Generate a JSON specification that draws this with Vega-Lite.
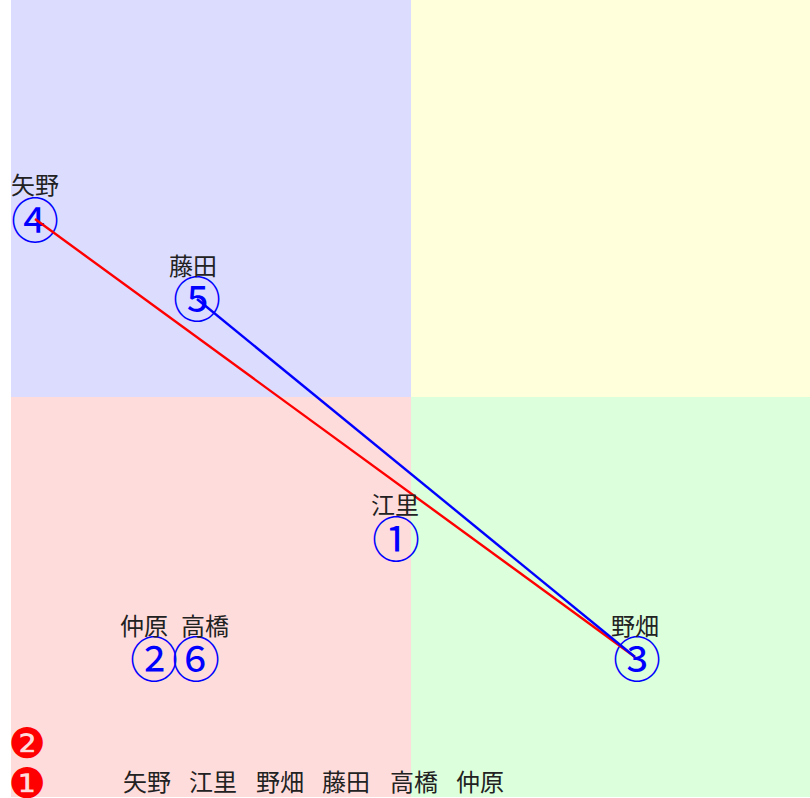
{
  "$schema": "https://vega.github.io/schema/vega-lite/v6.json",
  "width": 810,
  "height": 798,
  "autosize": {"type": "none"},
  "padding": 0,
  "background": "white",
  "config": {"view": {"stroke": null}},
  "datasets": {
    "quadrants": [
      {"q": "Q2", "x1": -10, "x2": 0, "y1": 0, "y2": 10},
      {"q": "Q1", "x1": 0, "x2": 10, "y1": 0, "y2": 10},
      {"q": "Q3", "x1": -10, "x2": 0, "y1": -10, "y2": 0},
      {"q": "Q4", "x1": 0, "x2": 10, "y1": -10, "y2": 0}
    ],
    "lines": [
      {"series": "A", "ord": 1, "x": -9.4, "y": 4.45},
      {"series": "A", "ord": 2, "x": 5.6, "y": -6.5},
      {"series": "B", "ord": 1, "x": -5.35, "y": 2.45},
      {"series": "B", "ord": 2, "x": 5.6, "y": -6.5}
    ],
    "points": [
      {"num": "①", "x": -0.375, "y": -3.575},
      {"num": "②", "x": -6.425, "y": -6.575},
      {"num": "③", "x": 5.65, "y": -6.575},
      {"num": "④", "x": -9.4, "y": 4.4},
      {"num": "⑤", "x": -5.35, "y": 2.425},
      {"num": "⑥", "x": -5.375, "y": -6.575}
    ],
    "labels": [
      {"name": "江里", "x": -0.4, "y": -2.75},
      {"name": "仲原", "x": -6.675, "y": -5.775},
      {"name": "野畑", "x": 5.6, "y": -5.775},
      {"name": "矢野", "x": -9.4, "y": 5.25},
      {"name": "藤田", "x": -5.45, "y": 3.225},
      {"name": "高橋", "x": -5.15, "y": -5.775}
    ],
    "markers": [
      {"m": "❷", "x": -9.6, "y": -8.7},
      {"m": "❶", "x": -9.6, "y": -9.7}
    ],
    "names": [
      {"name": "矢野", "x": -6.6},
      {"name": "江里", "x": -4.95},
      {"name": "野畑", "x": -3.275},
      {"name": "藤田", "x": -1.625},
      {"name": "高橋", "x": 0.075},
      {"name": "仲原", "x": 1.725}
    ]
  },
  "layer": [
    {
      "data": {"name": "quadrants"},
      "mark": {"type": "rect", "clip": true},
      "encoding": {
        "x": {"field": "x1", "type": "quantitative", "scale": {"domain": [-10.275, 9.975], "nice": false, "zero": false}, "axis": null},
        "x2": {"field": "x2"},
        "y": {"field": "y1", "type": "quantitative", "scale": {"domain": [-10.025, 9.925], "nice": false, "zero": false}, "axis": null},
        "y2": {"field": "y2"},
        "fill": {"field": "q", "type": "nominal", "scale": {"domain": ["Q1", "Q2", "Q3", "Q4"], "range": ["#ffffdc", "#dcdcff", "#ffdcdc", "#dcffdc"]}, "legend": null}
      }
    },
    {
      "data": {"name": "points"},
      "mark": {"type": "text", "fontSize": 48, "font": "Noto Sans CJK JP", "fontWeight": 400, "color": "#0000ff", "baseline": "middle", "align": "center", "dy": 3},
      "encoding": {
        "x": {"field": "x", "type": "quantitative"},
        "y": {"field": "y", "type": "quantitative"},
        "text": {"field": "num"}
      }
    },
    {
      "data": {"name": "lines"},
      "mark": {"type": "line", "strokeWidth": 2.4},
      "encoding": {
        "x": {"field": "x", "type": "quantitative"},
        "y": {"field": "y", "type": "quantitative"},
        "order": {"field": "ord"},
        "detail": {"field": "series"},
        "stroke": {"field": "series", "type": "nominal", "scale": {"domain": ["A", "B"], "range": ["#ff0000", "#0000ff"]}, "legend": null}
      }
    },
    {
      "data": {"name": "labels"},
      "mark": {"type": "text", "fontSize": 24, "font": "Noto Sans CJK JP", "color": "#222222", "baseline": "middle", "align": "center"},
      "encoding": {
        "x": {"field": "x", "type": "quantitative"},
        "y": {"field": "y", "type": "quantitative"},
        "text": {"field": "name"}
      }
    },
    {
      "data": {"name": "markers"},
      "mark": {"type": "text", "fontSize": 42, "font": "DejaVu Sans", "color": "#ff0000", "baseline": "middle", "align": "center"},
      "encoding": {
        "x": {"field": "x", "type": "quantitative"},
        "y": {"field": "y", "type": "quantitative"},
        "text": {"field": "m"}
      }
    },
    {
      "data": {"name": "names"},
      "mark": {"type": "text", "fontSize": 24, "font": "Noto Sans CJK JP", "color": "#222222", "baseline": "middle", "align": "center"},
      "encoding": {
        "x": {"field": "x", "type": "quantitative"},
        "y": {"datum": -9.675, "type": "quantitative"},
        "text": {"field": "name"}
      }
    }
  ]
}
